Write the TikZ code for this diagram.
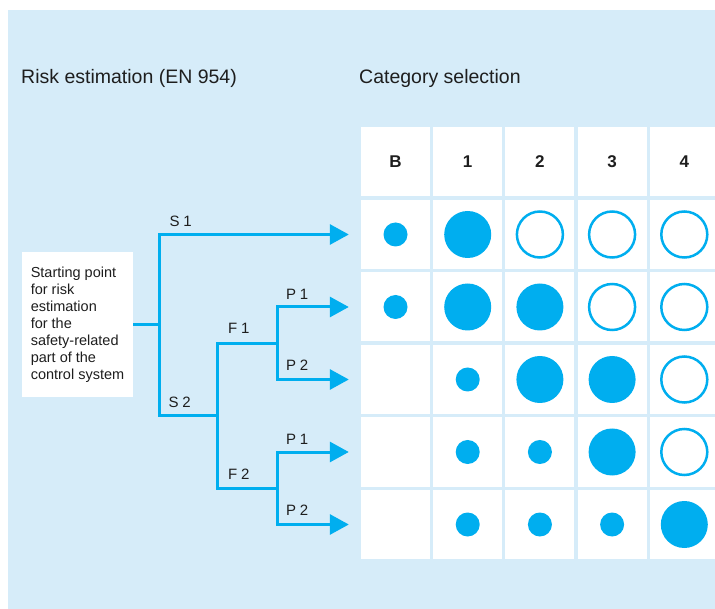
\documentclass[tikz,border=0pt]{standalone}
\usepackage{fontspec}
\setmainfont{Liberation Sans}
\newfontfamily\branchfont[LetterSpace=25]{Liberation Sans}
\usetikzlibrary{arrows.meta,positioning}
\definecolor{riskcyan}{RGB}{0,174,239}
\definecolor{panelblue}{RGB}{214,236,249}
\definecolor{inkgrey}{RGB}{30,30,30}

\begin{document}
\begin{tikzpicture}[x=1pt,y=-1pt,
  branch/.style={riskcyan,line width=3pt},
  tip/.style={branch,-{Triangle[length=19pt,width=20pt]}},
  lbl/.style={font=\fontsize{15}{17}\selectfont\branchfont,text=inkgrey,anchor=base west,inner sep=0pt},
  ttl/.style={font=\fontsize{19.5}{22}\selectfont,text=inkgrey,anchor=base west,inner sep=0pt},
  head/.style={font=\fontsize{17}{20}\selectfont\bfseries,text=inkgrey},
  cell/.style={fill=white,minimum width=69pt,minimum height=69pt,inner sep=0pt},
  dotL/.style={circle,fill=riskcyan,minimum size=47pt,inner sep=0pt},
  dotS/.style={circle,fill=riskcyan,minimum size=24pt,inner sep=0pt},
  ring/.style={circle,draw=riskcyan,line width=2.5pt,fill=white,minimum size=46pt,inner sep=0pt},
  blank/.style={}]
 \useasboundingbox(0,0)rectangle(715,609);
 \fill[panelblue](8,10)rectangle(715,609);
 \node[ttl](ttlrisk)at(21,83.5){Risk estimation (EN 954)};
 \node[ttl](ttlcat)at(359,83.5){Category selection};
 % 6 rows (header + 5), 5 columns B,1..4; the last column runs off the page
 \foreach \r in {0,...,5}
  \foreach \c in {0,...,4}
   \node[cell](cell\r\c)at({395.5+72.2*\c},{162+72.5*\r}){};
 \foreach \t [count=\c from 0] in {B,1,2,3,4}
  \node[head](head\c)at(cell0\c){\t};
 \foreach \r/\marks in {1/{dotS,dotL,ring,ring,ring},2/{dotS,dotL,dotL,ring,ring},
   3/{blank,dotS,dotL,dotL,ring},4/{blank,dotS,dotS,dotL,ring},5/{blank,dotS,dotS,dotS,dotL}}
  \foreach \m [count=\c from 0] in \marks
   \node[\m](dot\r\c)at(cell\r\c){};
 % starting box
 \node[fill=white,minimum width=111pt,minimum height=145pt,inner sep=0pt,
   align=left,text=inkgrey,font=\fontsize{14.5}{17}\selectfont]
   (start)at(77.5,325){Starting point\\for risk\\estimation\\for the\\safety-related\\part of the\\control system};
 % branch points
 \coordinate(root)at(159,325);
 \coordinate(fork)at(217,415.75);
 \coordinate(pA)at(277,343.25);
 \coordinate(pB)at(277,488.25);
 \foreach \r in {1,...,5}
  \coordinate[left=12pt of cell\r0.west](end\r);
 \draw[branch](start.east)--(root);
 \draw[tip](root)|-(end1);
 \draw[branch](root)|-(fork);
 \draw[branch](fork)|-(pA);
 \draw[branch](fork)|-(pB);
 \draw[tip](pA)|-(end2);
 \draw[tip](pA)|-(end3);
 \draw[tip](pB)|-(end4);
 \draw[tip](pB)|-(end5);
 \node[lbl](lS1)at(169.5,226.5){S1};
 \node[lbl](lS2)at(168.5,407.5){S2};
 \node[lbl](lF1)at(228,334){F1};
 \node[lbl](lF2)at(228,479.5){F2};
 \node[lbl](lP1a)at(286,299.5){P1};
 \node[lbl](lP2a)at(286,371){P2};
 \node[lbl](lP1b)at(286,444){P1};
 \node[lbl](lP2b)at(286,515.5){P2};
\end{tikzpicture}
\end{document}
